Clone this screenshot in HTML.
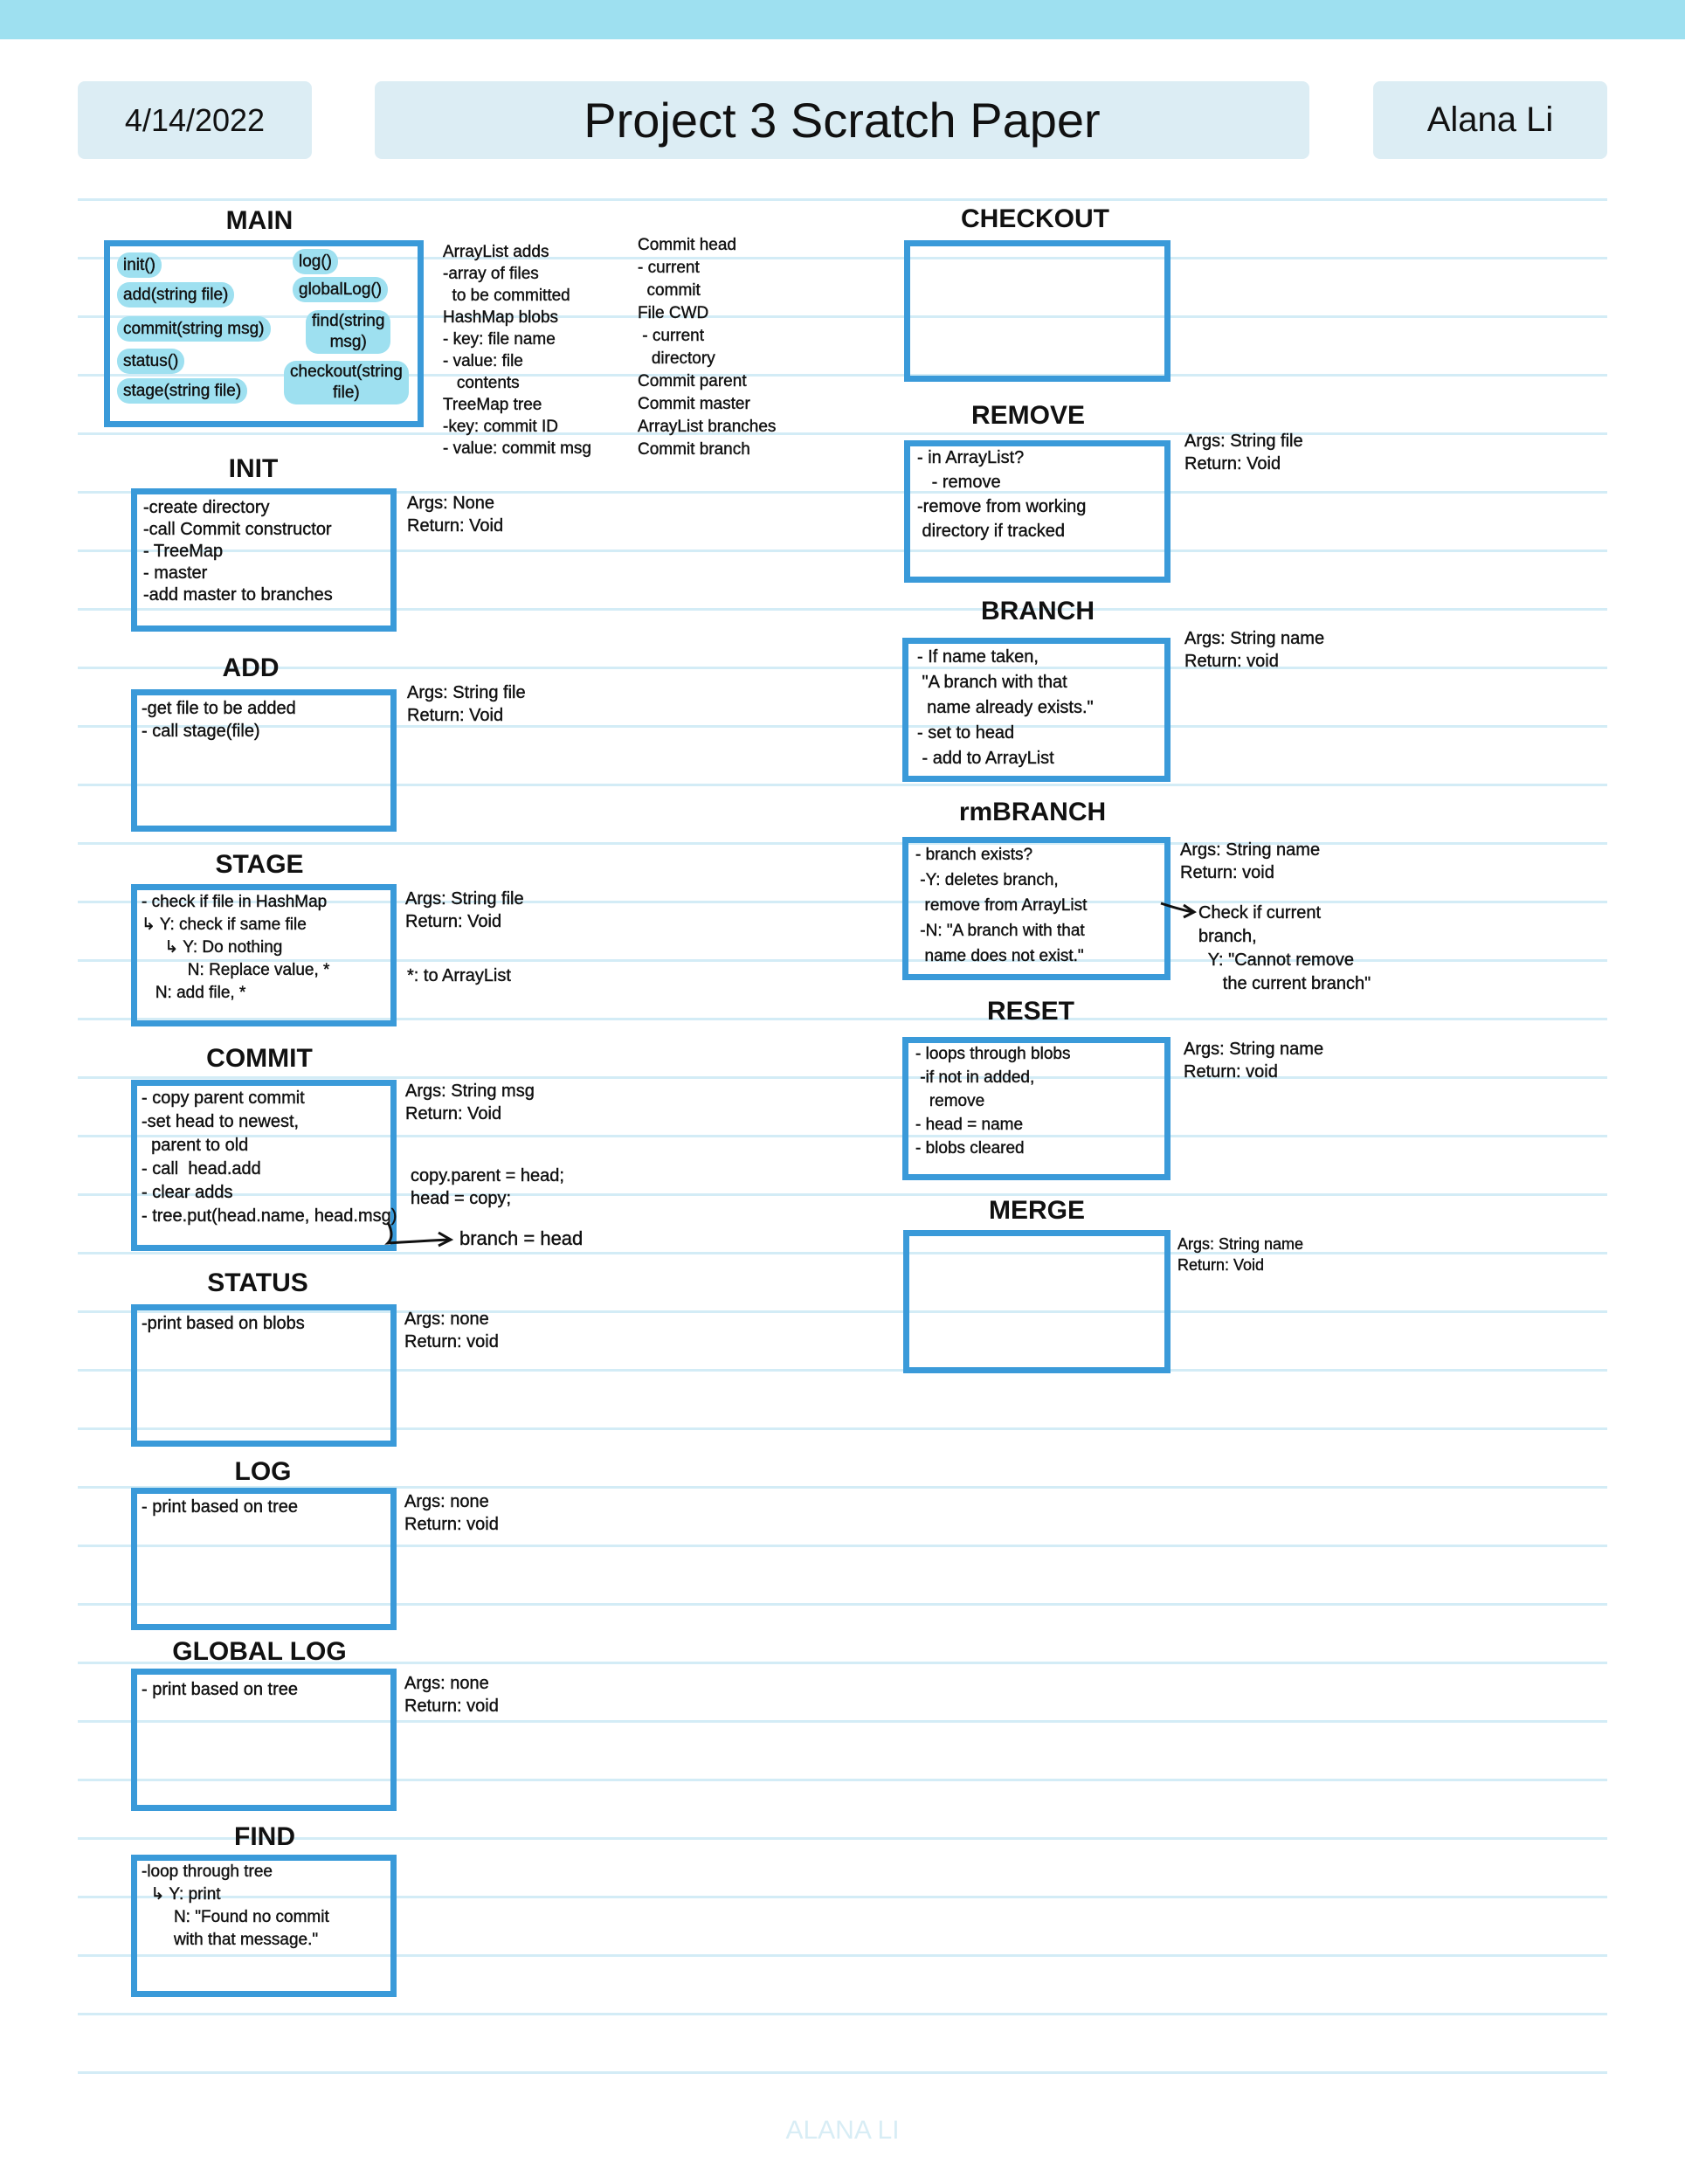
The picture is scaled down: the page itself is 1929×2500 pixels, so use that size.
<!DOCTYPE html>
<html><head><meta charset="utf-8">
<style>
body{margin:0;width:1929px;height:2500px;position:relative;background:#fff;overflow:hidden;font-family:"Liberation Sans",sans-serif;color:#111}
.band{position:absolute;left:0;top:0;width:1929px;height:45px;background:#9ee0f0}
.hb{position:absolute;top:93px;height:89px;background:#dcedf4;border-radius:8px;display:flex;align-items:center;justify-content:center;font-family:"Liberation Sans Narrow","Liberation Sans",sans-serif}
.ln{position:absolute;left:89px;width:1751px;height:3px;background:#d3ecf6}
.bx{position:absolute;border:7px solid #3a9ad9;box-sizing:border-box;background:transparent}
.h{position:absolute;font-weight:bold;font-size:30px;transform:translateX(-50%);white-space:nowrap;font-family:"Liberation Sans Narrow","Liberation Sans",sans-serif}
.t{position:absolute;font-size:20px;line-height:26px;white-space:pre;font-family:"Liberation Sans Narrow","Liberation Sans",sans-serif;-webkit-text-stroke:0.4px #111}
.p{position:absolute;background:#9ee0f0;border-radius:14px;font-size:19px;line-height:27px;padding:1px 7px;white-space:pre;text-align:center;font-family:"Liberation Sans Narrow","Liberation Sans",sans-serif;-webkit-text-stroke:0.4px #111}
</style></head><body>
<div class="band"></div>
<div class="hb" style="left:89px;width:268px;font-size:36px">4/14/2022</div>
<div class="hb" style="left:429px;width:1070px;font-size:56px">Project 3 Scratch Paper</div>
<div class="hb" style="left:1572px;width:268px;font-size:40px">Alana Li</div>

<div class="ln" style="top:227px"></div><div class="ln" style="top:294px"></div><div class="ln" style="top:361px"></div><div class="ln" style="top:428px"></div><div class="ln" style="top:495px"></div><div class="ln" style="top:562px"></div><div class="ln" style="top:629px"></div><div class="ln" style="top:696px"></div><div class="ln" style="top:763px"></div><div class="ln" style="top:830px"></div><div class="ln" style="top:897px"></div><div class="ln" style="top:964px"></div><div class="ln" style="top:1031px"></div><div class="ln" style="top:1098px"></div><div class="ln" style="top:1165px"></div><div class="ln" style="top:1232px"></div><div class="ln" style="top:1299px"></div><div class="ln" style="top:1366px"></div><div class="ln" style="top:1433px"></div><div class="ln" style="top:1500px"></div><div class="ln" style="top:1567px"></div><div class="ln" style="top:1634px"></div><div class="ln" style="top:1701px"></div><div class="ln" style="top:1768px"></div><div class="ln" style="top:1835px"></div><div class="ln" style="top:1902px"></div><div class="ln" style="top:1969px"></div><div class="ln" style="top:2036px"></div><div class="ln" style="top:2103px"></div><div class="ln" style="top:2170px"></div><div class="ln" style="top:2237px"></div><div class="ln" style="top:2304px"></div><div class="ln" style="top:2371px"></div>

<!-- MAIN -->
<div class="h" style="left:297px;top:236px">MAIN</div>
<div class="bx" style="left:119px;top:275px;width:366px;height:214px"></div>
<div class="p" style="left:134px;top:289px">init()</div>
<div class="p" style="left:335px;top:285px">log()</div>
<div class="p" style="left:134px;top:323px">add(string file)</div>
<div class="p" style="left:335px;top:317px">globalLog()</div>
<div class="p" style="left:134px;top:362px">commit(string msg)</div>
<div class="p" style="left:350px;top:355px;line-height:24px">find(string<br>msg)</div>
<div class="p" style="left:134px;top:399px">status()</div>
<div class="p" style="left:325px;top:413px;line-height:24px">checkout(string<br>file)</div>
<div class="p" style="left:134px;top:433px">stage(string file)</div>
<div class="t" style="left:507px;top:276px;font-size:19px;line-height:25px">ArrayList adds
-array of files
  to be committed
HashMap blobs
- key: file name
- value: file
   contents
TreeMap tree
-key: commit ID
- value: commit msg</div>
<div class="t" style="left:730px;top:268px;font-size:19px;line-height:26px">Commit head
- current
  commit
File CWD
 - current
   directory
Commit parent
Commit master
ArrayList branches
Commit branch</div>

<!-- INIT -->
<div class="h" style="left:290px;top:520px">INIT</div>
<div class="bx" style="left:150px;top:559px;width:304px;height:164px"></div>
<div class="t" style="left:164px;top:569px;line-height:25px">-create directory
-call Commit constructor
- TreeMap
- master
-add master to branches</div>
<div class="t" style="left:466px;top:563px">Args: None
Return: Void</div>

<!-- ADD -->
<div class="h" style="left:287px;top:748px">ADD</div>
<div class="bx" style="left:150px;top:789px;width:304px;height:163px"></div>
<div class="t" style="left:162px;top:798px">-get file to be added
- call stage(file)</div>
<div class="t" style="left:466px;top:780px">Args: String file
Return: Void</div>

<!-- STAGE -->
<div class="h" style="left:297px;top:973px">STAGE</div>
<div class="bx" style="left:150px;top:1012px;width:304px;height:163px"></div>
<div class="t" style="left:162px;top:1020px;font-size:19px">- check if file in HashMap
↳ Y: check if same file
     ↳ Y: Do nothing
          N: Replace value, *
   N: add file, *</div>
<div class="t" style="left:464px;top:1016px">Args: String file
Return: Void</div>
<div class="t" style="left:466px;top:1104px">*: to ArrayList</div>

<!-- COMMIT -->
<div class="h" style="left:297px;top:1195px">COMMIT</div>
<div class="bx" style="left:150px;top:1236px;width:304px;height:196px"></div>
<div class="t" style="left:162px;top:1244px;line-height:27px">- copy parent commit
-set head to newest,
  parent to old
- call  head.add
- clear adds
- tree.put(head.name, head.msg)</div>
<div class="t" style="left:464px;top:1236px">Args: String msg
Return: Void</div>
<div class="t" style="left:470px;top:1333px">copy.parent = head;
head = copy;</div>
<div class="t" style="left:526px;top:1405px;font-size:22px">branch = head</div>
<svg style="position:absolute;left:436px;top:1395px" width="100" height="40"><path d="M8 4 Q16 20 8 28 Q40 26 78 24" stroke="#111" stroke-width="3" fill="none"/><path d="M66 16 L80 24 L66 31" stroke="#111" stroke-width="3" fill="none"/></svg>

<!-- STATUS -->
<div class="h" style="left:295px;top:1452px">STATUS</div>
<div class="bx" style="left:150px;top:1493px;width:304px;height:163px"></div>
<div class="t" style="left:162px;top:1502px">-print based on blobs</div>
<div class="t" style="left:463px;top:1497px">Args: none
Return: void</div>

<!-- LOG -->
<div class="h" style="left:301px;top:1668px">LOG</div>
<div class="bx" style="left:150px;top:1703px;width:304px;height:163px"></div>
<div class="t" style="left:162px;top:1712px">- print based on tree</div>
<div class="t" style="left:463px;top:1706px">Args: none
Return: void</div>

<!-- GLOBAL LOG -->
<div class="h" style="left:297px;top:1874px">GLOBAL LOG</div>
<div class="bx" style="left:150px;top:1910px;width:304px;height:163px"></div>
<div class="t" style="left:162px;top:1921px">- print based on tree</div>
<div class="t" style="left:463px;top:1914px">Args: none
Return: void</div>

<!-- FIND -->
<div class="h" style="left:303px;top:2086px">FIND</div>
<div class="bx" style="left:150px;top:2123px;width:304px;height:163px"></div>
<div class="t" style="left:162px;top:2130px;font-size:19px">-loop through tree
  ↳ Y: print
       N: "Found no commit
       with that message."</div>

<!-- CHECKOUT -->
<div class="h" style="left:1185px;top:234px">CHECKOUT</div>
<div class="bx" style="left:1035px;top:275px;width:305px;height:162px"></div>

<!-- REMOVE -->
<div class="h" style="left:1177px;top:459px">REMOVE</div>
<div class="bx" style="left:1035px;top:504px;width:305px;height:163px"></div>
<div class="t" style="left:1050px;top:510px;line-height:28px">- in ArrayList?
   - remove
-remove from working
 directory if tracked</div>
<div class="t" style="left:1356px;top:492px">Args: String file
Return: Void</div>

<!-- BRANCH -->
<div class="h" style="left:1188px;top:683px">BRANCH</div>
<div class="bx" style="left:1033px;top:730px;width:307px;height:165px"></div>
<div class="t" style="left:1050px;top:738px;line-height:29px">- If name taken,
 "A branch with that
  name already exists."
- set to head
 - add to ArrayList</div>
<div class="t" style="left:1356px;top:718px">Args: String name
Return: void</div>

<!-- rmBRANCH -->
<div class="h" style="left:1182px;top:913px">rmBRANCH</div>
<div class="bx" style="left:1033px;top:958px;width:307px;height:164px"></div>
<div class="t" style="left:1048px;top:964px;line-height:29px;font-size:19px">- branch exists?
 -Y: deletes branch,
  remove from ArrayList
 -N: "A branch with that
  name does not exist."</div>
<div class="t" style="left:1351px;top:960px">Args: String name
Return: void</div>
<svg style="position:absolute;left:1327px;top:1030px" width="45" height="25"><path d="M2 4 Q20 10 38 14" stroke="#111" stroke-width="3" fill="none"/><path d="M28 6 L40 14 L28 20" stroke="#111" stroke-width="3" fill="none"/></svg>
<div class="t" style="left:1372px;top:1032px;line-height:27px">Check if current
branch,
  Y: "Cannot remove
     the current branch"</div>

<!-- RESET -->
<div class="h" style="left:1180px;top:1141px">RESET</div>
<div class="bx" style="left:1033px;top:1187px;width:307px;height:164px"></div>
<div class="t" style="left:1048px;top:1193px;line-height:27px;font-size:19px">- loops through blobs
 -if not in added,
   remove
- head = name
- blobs cleared</div>
<div class="t" style="left:1355px;top:1188px">Args: String name
Return: void</div>

<!-- MERGE -->
<div class="h" style="left:1187px;top:1369px">MERGE</div>
<div class="bx" style="left:1034px;top:1408px;width:306px;height:164px"></div>
<div class="t" style="left:1348px;top:1412px;font-size:18px;line-height:24px">Args: String name
Return: Void</div>

<div style="position:absolute;left:0;width:1929px;top:2422px;text-align:center;font-size:30px;color:#d8edf5;font-family:'Liberation Sans',sans-serif">ALANA LI</div>
</body></html>
